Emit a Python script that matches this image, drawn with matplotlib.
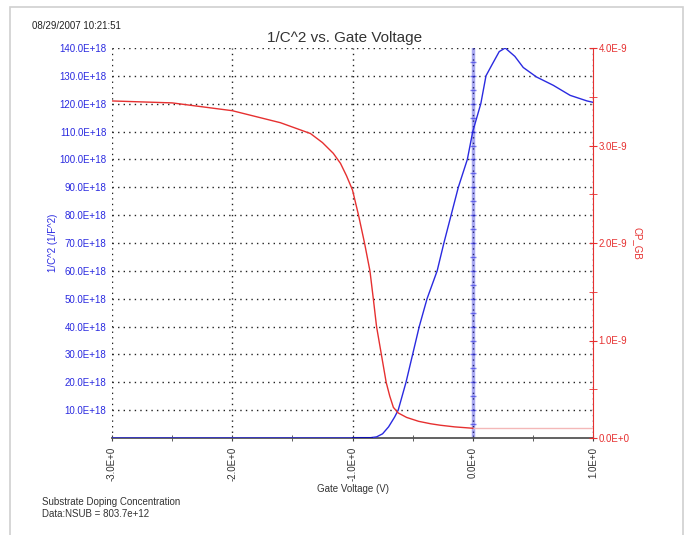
import matplotlib
matplotlib.use("Agg")
import matplotlib.pyplot as plt
from matplotlib.patches import Rectangle

plt.rcParams["font.family"] = ["Liberation Sans", "DejaVu Sans"]

# ---- data ----
# 1/C^2 curve (units of 1e18 1/F^2)
v_inv = [-3.0, -2.5, -2.0, -1.5, -1.0, -0.9, -0.85, -0.8, -0.75, -0.7, -0.65,
         -0.62, -0.555, -0.5, -0.445, -0.38, -0.296, -0.24, -0.18, -0.12,
         -0.045, 0.0, 0.067, 0.11, 0.16, 0.22, 0.27, 0.35, 0.42, 0.53, 0.67,
         0.81, 0.95, 1.0]
inv_c2 = [0, 0, 0, 0, 0, 0, 0.1, 0.4, 1.5, 4, 7.5, 10, 20, 30, 40, 50, 60,
          70, 80, 90, 100, 110, 120, 130, 134, 138.7, 140, 137, 133, 129.6,
          126.6, 123, 121, 120.5]

# CP_GB curve (F)
v_cp = [-3.0, -2.5, -2.0, -1.6, -1.35, -1.25, -1.16, -1.1, -1.05, -1.0,
        -0.95, -0.9, -0.855, -0.827, -0.8, -0.76, -0.72, -0.69, -0.66,
        -0.62, -0.55, -0.45, -0.35, -0.27, -0.15, 0.0]
cp_gb = [3.457e-9, 3.437e-9, 3.357e-9, 3.234e-9, 3.123e-9, 3.03e-9, 2.92e-9,
         2.817e-9, 2.69e-9, 2.543e-9, 2.286e-9, 2.0e-9, 1.714e-9, 1.429e-9,
         1.143e-9, 0.857e-9, 0.571e-9, 0.429e-9, 0.314e-9, 0.257e-9,
         0.211e-9, 0.171e-9, 0.146e-9, 0.131e-9, 0.114e-9, 0.1e-9]
cp_tail = 0.1e-9

x_ticks = [-3, -2, -1, 0, 1]
x_labels = ["-3.0E+0", "-2.0E+0", "-1.0E+0", "0.0E+0", "1.0E+0"]
y_ticks = list(range(10, 150, 10))
y_labels = [f"{t}.0E+18" for t in y_ticks]
r_ticks = [0, 1e-9, 2e-9, 3e-9, 4e-9]
r_labels = ["0.0E+0", "1.0E-9", "2.0E-9", "3.0E-9", "4.0E-9"]

blue = "#2a2ae0"
red = "#e63030"
txt = "#333333"

fig = plt.figure(figsize=(6.88, 5.35), dpi=100)
fig.patches.append(Rectangle((10 / 688, -0.1), 673 / 688, 1.1 - 7 / 535,
                             transform=fig.transFigure, fill=False,
                             edgecolor="#d0d0d0", lw=1.2))

ax = fig.add_axes([112 / 688, 97 / 535, 481 / 688, 390 / 535])
ax.set_xlim(-3, 1)
ax.set_ylim(0, 140)

# dotted grid
ax.set_yticks(y_ticks)
ax.set_yticklabels(y_labels, color=blue, fontsize=7)
ax.set_yticks(range(5, 140, 10), minor=True)
ax.set_xticks(x_ticks)
ax.set_xticklabels(x_labels, rotation=90, color=txt, fontsize=7)
ax.set_xticks([-2.5, -1.5, -0.5, 0.5], minor=True)
ax.grid(True, which="major", color="#222222", linestyle=(0, (1, 3)), lw=1)
ax.tick_params(axis="y", which="both", length=0, pad=4)
ax.tick_params(axis="x", which="major", length=5, color="#444444",
               direction="inout", pad=4)
ax.tick_params(axis="x", which="minor", length=5, color="#444444",
               direction="inout")
for s in ["top", "right", "left"]:
    ax.spines[s].set_visible(False)
ax.spines["bottom"].set_color("#555555")
ax.spines["bottom"].set_linewidth(1.3)

# zero-volt marker axis
ax.axvline(0, color=blue, alpha=0.4, lw=2.5, zorder=2)
ax.plot([0] * 27, [t * 5 for t in range(1, 28)], ls="none", marker="_",
        ms=5, mew=1.0, color=blue, alpha=0.6, zorder=2)

ax.plot(v_inv, inv_c2, color=blue, lw=1, zorder=4)
ax.plot([-1.0, -0.85], [0, 0], color="#1010b0", lw=2.2, zorder=4)

ax.set_xlabel("Gate Voltage (V)", fontsize=7, color=txt, labelpad=2)
ax.set_ylabel("1/C^2 (1/F^2)", fontsize=7, color=blue, labelpad=1)

# right axis
ax2 = ax.twinx()
ax2.set_ylim(0, 4e-9)
ax2.set_yticks(r_ticks)
ax2.set_yticklabels(r_labels, color=red, fontsize=7)
ax2.set_yticks([0.5e-9, 1.5e-9, 2.5e-9, 3.5e-9], minor=True)
ax2.tick_params(axis="y", which="both", color=red, length=6,
                direction="inout", pad=1)
for s in ["top", "left", "bottom"]:
    ax2.spines[s].set_visible(False)
ax2.spines["right"].set_color(red)
ax2.plot(v_cp, cp_gb, color=red, lw=1, zorder=4)
ax2.plot([0, 1], [cp_tail, cp_tail], color="#f4b8b8", lw=1, zorder=3)
ax2.set_ylabel("CP_GB", fontsize=7, color=red, rotation=-90, labelpad=9)

fig.text(345 / 688, 1 - 38 / 535, "1/C^2 vs. Gate Voltage", ha="center",
         va="center", fontsize=11, color=txt)
fig.text(32 / 688, 1 - 26 / 535, "08/29/2007 10:21:51", ha="left",
         va="center", fontsize=7, color="#222222")
fig.text(42 / 688, 1 - 508 / 535,
         "Substrate Doping Concentration\nData:NSUB = 803.7e+12",
         ha="left", va="center", fontsize=7, color=txt, linespacing=1.3)

fig.savefig("out.png", dpi=100)
